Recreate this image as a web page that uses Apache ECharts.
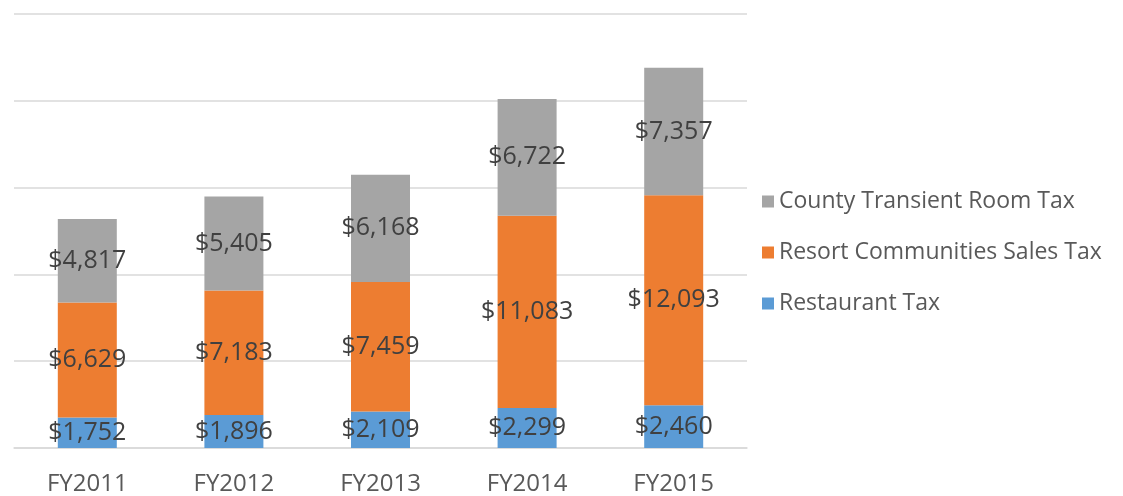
<!DOCTYPE html>
<html>
<head>
<meta charset="utf-8">
<script src="https://cdn.jsdelivr.net/npm/echarts@6/dist/echarts.min.js"></script>
<style>html,body{margin:0;padding:0;background:#fff}#c{width:1123px;height:496px}</style>
</head>
<body>
<div id="c"></div>
<script>
const categories = ['FY2011', 'FY2012', 'FY2013', 'FY2014', 'FY2015'];
const restaurantTax = [1752, 1896, 2109, 2299, 2460];
const resortSalesTax = [6629, 7183, 7459, 11083, 12093];
const countyRoomTax = [4817, 5405, 6168, 6722, 7357];
const seriesNames = ['Restaurant Tax', 'Resort Communities Sales Tax', 'County Transient Room Tax'];
const seriesColors = ['#5B9BD5', '#ED7D31', '#A5A5A5'];
const seriesData = [restaurantTax, resortSalesTax, countyRoomTax];

const fmt = v => '$' + v.toLocaleString('en-US');
const chart = echarts.init(document.getElementById('c'), null, {renderer: 'canvas'});
chart.setOption({
  animation: false,
  textStyle: {fontFamily: 'Open Sans'},
  grid: {left: 14, right: 376, top: 14, bottom: 47},
  legend: {
    orient: 'vertical', left: 757, top: 185, itemGap: 28,
    itemWidth: 12, itemHeight: 12, icon: 'rect',
    data: [seriesNames[2], seriesNames[1], seriesNames[0]],
    textStyle: {fontSize: 23, color: '#595959', fontFamily: 'Open Sans'}
  },
  xAxis: {
    type: 'category', data: categories,
    axisLine: {lineStyle: {color: '#D9D9D9', width: 1.5}},
    axisTick: {show: false},
    axisLabel: {fontSize: 24, color: '#595959', margin: 24, fontFamily: 'Open Sans'}
  },
  yAxis: {
    type: 'value', min: 0, max: 25000, interval: 5000,
    axisLabel: {show: false}, axisLine: {show: false}, axisTick: {show: false},
    splitLine: {lineStyle: {color: '#D9D9D9', width: 1.5}}
  },
  series: seriesNames.map((n, i) => ({
    name: n, type: 'bar', stack: 'total', barWidth: 59,
    data: seriesData[i],
    itemStyle: {color: seriesColors[i]},
    label: {show: true, position: 'inside', formatter: p => fmt(p.value),
      fontSize: 25, color: '#404040', fontFamily: 'Open Sans'}
  }))
});
</script>
</body>
</html>
